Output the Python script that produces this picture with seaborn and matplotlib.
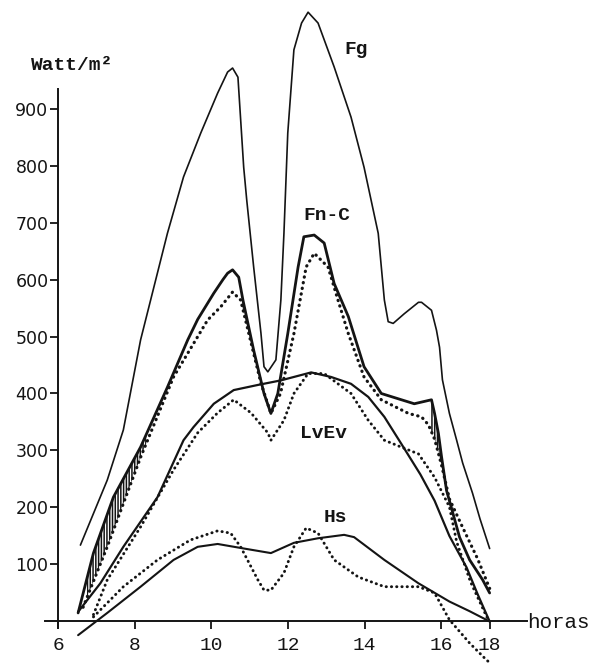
import numpy as np
import matplotlib
matplotlib.use("Agg")
import matplotlib.pyplot as plt
import seaborn as sns

# ---- data (hours, Watt/m2) ----
fg_h = [6.58, 7.28, 7.70, 8.15, 8.85, 9.27, 9.72, 10.16, 10.42, 10.55, 10.69, 10.84, 10.92,
        11.10, 11.29, 11.37, 11.47, 11.68, 11.81, 11.89, 11.99, 12.15, 12.35, 12.52, 12.78,
        13.20, 13.64, 13.98, 14.35, 14.51, 14.61, 14.74, 15.03, 15.40, 15.48, 15.74, 15.87,
        15.95, 16.04, 16.33, 16.63, 16.88, 17.29, 17.60, 18.0]
fg_v = [134, 248, 336, 494, 681, 780, 857, 927, 964, 971, 955, 797, 739,
        622, 506, 447, 438, 459, 564, 681, 857, 1003, 1050, 1069, 1050,
        973, 885, 797, 681, 564, 526, 523, 540, 560, 560, 546, 511,
        481, 424, 365, 318, 278, 225, 180, 128]

fnc_h = [6.52, 6.92, 7.44, 8.15, 8.85, 9.38, 9.64, 10.06, 10.30, 10.42, 10.55, 10.71, 10.82,
         11.10, 11.37, 11.55, 11.73, 11.99, 12.26, 12.41, 12.68, 12.94, 13.20, 13.57, 13.98,
         14.43, 15.29, 15.74, 15.82, 15.92, 16.00, 16.21, 16.75, 17.17, 17.71, 18.0]
fnc_v = [15, 120, 218, 306, 411, 494, 530, 576, 600, 611, 617, 604, 564,
         476, 400, 365, 400, 505, 622, 675, 678, 664, 593, 535, 447,
         400, 382, 389, 365, 330, 290, 230, 148, 108, 73, 50]

fnc_dot_h = [6.65, 7.28, 8.15, 9.01, 9.90, 10.24, 10.55, 10.76, 11.29, 11.55, 11.80, 12.15,
             12.47, 12.68, 13.04, 13.30, 13.57, 13.98, 14.43, 15.14, 15.48, 15.66, 15.82,
             16.00, 16.33, 16.88, 17.50, 18.0]
fnc_dot_v = [25, 131, 288, 429, 529, 552, 578, 564, 418, 365, 400, 505,
             622, 646, 622, 564, 505, 429, 389, 365, 359, 345, 320,
             275, 215, 165, 110, 58]

lv_h = [6.52, 7.10, 7.70, 8.59, 9.27, 9.53, 10.06, 10.58, 11.21, 11.81, 12.60, 13.12, 13.64,
        14.09, 14.51, 14.95, 15.45, 15.82, 16.33, 17.04, 17.50, 18.0]
lv_v = [17, 67, 131, 218, 318, 341, 382, 406, 415, 423, 437, 429, 417,
        394, 359, 312, 258, 212, 150, 95, 48, 0]

lv_dot_h = [6.92, 7.28, 8.15, 9.01, 9.64, 10.16, 10.58, 11.03, 11.47, 11.55, 11.89, 12.15,
            12.52, 12.94, 13.64, 14.09, 14.51, 14.95, 15.40, 15.82, 16.33, 16.63, 17.20,
            17.88, 18.0]
lv_dot_v = [12, 73, 166, 266, 331, 366, 389, 366, 331, 318, 353, 400,
            435, 435, 400, 353, 318, 306, 294, 253, 201, 140, 70,
            8, 0]

hs_h = [6.52, 7.28, 8.15, 9.01, 9.64, 10.16, 10.76, 11.55, 12.15, 12.78, 13.46, 13.72, 14.51,
        15.40, 16.33, 17.17, 18.0]
hs_v = [-24, 15, 61, 108, 131, 136, 129, 120, 138, 146, 152, 148, 108,
        67, 35, 18, 0]

hs_dot_h = [6.92, 7.70, 8.59, 9.45, 10.16, 10.50, 10.76, 11.21, 11.37, 11.55, 11.89, 12.15,
            12.47, 12.78, 13.20, 13.83, 14.51, 15.40, 15.82, 16.33, 17.17, 17.88, 18.0]
hs_dot_v = [8, 61, 108, 143, 159, 155, 131, 73, 55, 55, 85, 131,
            164, 155, 108, 78, 61, 61, 50, 3, -38, -68, -72]

x_ticks = [6, 8, 10, 12, 14, 16, 18]
y_ticks = [100, 200, 300, 400, 500, 600, 700, 800, 900]
y_label = "Watt/m²"
x_label = "horas"
series_labels = {"Fg": (13.77, 1003), "Fn-C": (13.02, 713), "LvEv": (12.91, 329), "Hs": (13.23, 182)}

# ---- figure ----
sns.set_style("ticks")
plt.rcParams["font.family"] = ["DejaVu Sans"]
plt.rcParams["hatch.linewidth"] = 1.1
fig = plt.figure(figsize=(5.98, 6.64), dpi=100)
ax = fig.add_axes([0, 0, 1, 1])
ax.patch.set_alpha(0)

# hand-drawn axis: the 16-18 interval is compressed
_src = [0, 6, 16, 18, 40]
_dst = [0, 6, 16, 17.257, 39.257]
def fwd(x):
    return np.interp(np.asarray(x, dtype=float), _src, _dst)
def inv(y):
    return np.interp(np.asarray(y, dtype=float), _dst, _src)
ax.set_xscale("function", functions=(fwd, inv))
ax.set_xlim(4.482, 20.827)
ax.set_ylim(-74.6, 1090.4)

ink = "#141414"
dot = (0, (0.1, 1.7))

def draw(h, v, lw, ls="-"):
    sns.lineplot(x=h, y=v, ax=ax, color=ink, linewidth=lw, linestyle=ls,
                 estimator=None, sort=False, dash_capstyle="round",
                 solid_capstyle="round", solid_joinstyle="round")

draw(fg_h, fg_v, 1.2)
draw(fnc_h, fnc_v, 2.0)
draw(fnc_dot_h, fnc_dot_v, 2.3, dot)
draw(lv_h, lv_v, 1.6)
draw(lv_dot_h, lv_dot_v, 2.1, dot)
draw(hs_h, hs_v, 1.5)
draw(hs_dot_h, hs_dot_v, 2.1, dot)

# hatching between the two Fn-C curves
for a, b in [(6.75, 8.3), (10.8, 11.5), (15.7, 16.5)]:
    g = np.linspace(a, b, 60)
    ax.fill_between(g, np.interp(g, fnc_h, fnc_v), np.interp(g, fnc_dot_h, fnc_dot_v),
                    facecolor="none", edgecolor=ink, hatch="||||||", linewidth=0)

# axes
for s in ["top", "right"]:
    ax.spines[s].set_visible(False)
ax.spines["left"].set_position(("data", 6))
ax.spines["bottom"].set_position(("data", 0))
ax.spines["left"].set_bounds(-12, 935)
ax.spines["bottom"].set_bounds(5.66, 18.97)
for s in ["left", "bottom"]:
    ax.spines[s].set_linewidth(1.4)
    ax.spines[s].set_color(ink)

ax.set_xticks(x_ticks)
ax.set_xticklabels([str(t) for t in x_ticks])
ax.set_yticks(y_ticks)
ax.set_yticklabels([str(t) for t in y_ticks])
ax.tick_params(axis="y", direction="out", length=6, width=1.3, pad=1,
               labelsize=12.5, colors=ink, left=True)
ax.tick_params(axis="x", direction="out", length=6, width=1.3, pad=5,
               labelsize=14, colors=ink, bottom=True)
for lbl in ax.get_xticklabels():
    lbl.set_fontfamily("Liberation Mono")
ax.set_xlabel("")
ax.set_ylabel("")

for name, (hx, vy) in series_labels.items():
    ax.text(hx, vy, name, family="Liberation Mono", weight="bold", fontsize=14,
            ha="center", va="center", color=ink)

fig.text(72 / 598, 1 - 66 / 664, y_label, family="Liberation Mono", weight="bold",
         fontsize=14, ha="center", va="center", color=ink)
fig.text(527 / 598, 1 - 623 / 664, x_label, family="Liberation Mono",
         fontsize=15, ha="left", va="center", color=ink)

fig.savefig("out.png", dpi=100, facecolor="white")
